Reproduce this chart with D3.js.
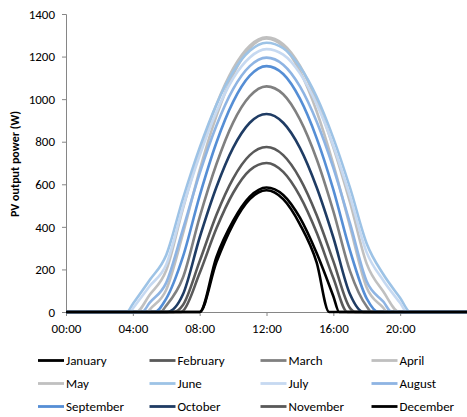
<!DOCTYPE html>
<html><head><meta charset="utf-8">
<script src="https://cdn.jsdelivr.net/npm/d3@7"></script>
<style>
body{margin:0;background:#fff;}
svg text{font-family:Carlito,Lato,"Open Sans",sans-serif;fill:#000;}
</style></head>
<body><svg id="c" width="467" height="417"></svg>
<script>
const hours = d3.range(0,25);
const months = ["January","February","March","April","May","June","July","August","September","October","November","December"];
const colors = ["#000000","#595959","#808080","#bfbfbf","#c0c0c0","#9dc3e6","#c6d9f1","#8eb4e3","#558ed5","#1f3c64","#595959","#000000"];
const sunrise = [8.0,6.45,5.65,4.9,4.2,3.65,3.85,4.55,5.3,6.05,6.9,8.0];
const sunset  = [16.35,17.3,18.3,19.2,19.95,20.6,20.4,19.5,18.7,17.8,16.85,15.75];
const january   = [0,0,0,0,0,0,0,0,0,258,428,542,585,550,443,277,74,0,0,0,0,0,0,0,0];
const february  = [0,0,0,0,0,0,0,33,239,456,627,737,775,737,627,456,239,18,0,0,0,0,0,0,0];
const march     = [0,0,0,0,0,0,30,162,446,694,890,1014,1060,1023,905,719,474,192,26,0,0,0,0,0,0];
const april     = [0,0,0,0,0,10,105,368,667,920,1115,1240,1285,1248,1131,943,694,401,114,19,0,0,0,0,0];
const may       = [0,0,0,0,0,80,196,486,752,974,1143,1251,1290,1258,1157,993,774,515,226,95,0,0,0,0,0];
const june      = [0,0,0,0,38,149,268,533,772,974,1128,1227,1265,1239,1152,1011,817,583,321,176,66,0,0,0,0];
const july      = [0,0,0,0,16,121,223,493,735,940,1097,1196,1235,1209,1121,977,781,543,279,147,42,0,0,0,0];
const august    = [0,0,0,0,0,43,138,389,651,875,1047,1155,1195,1162,1060,895,677,416,143,48,0,0,0,0,0];
const september = [0,0,0,0,0,0,63,260,546,795,987,1110,1155,1118,1002,817,575,288,63,0,0,0,0,0,0];
const october   = [0,0,0,0,0,0,0,83,350,586,771,889,930,889,771,586,350,83,0,0,0,0,0,0,0];
const november  = [0,0,0,0,0,0,0,5,183,392,559,666,700,658,544,373,160,0,0,0,0,0,0,0,0];
const december  = [0,0,0,0,0,0,0,0,0,233,412,530,572,530,412,233,0,0,0,0,0,0,0,0,0];
const series = [january,february,march,april,may,june,july,august,september,october,november,december];
const yTicks = [0,200,400,600,800,1000,1200,1400];
const xTicks = [0,4,8,12,16,20];
const xTickLabels = ["00:00","04:00","08:00","12:00","16:00","20:00"];
const yTitle = "PV output power (W)";

const svg = d3.select("#c");
const x = d3.scaleLinear().domain([0,24]).range([66,467]);
const y = d3.scaleLinear().domain([0,1400]).range([312,14]);

// axes
const yAxis = svg.append("g").attr("transform","translate(66,0)")
  .call(d3.axisLeft(y).tickValues(yTicks).tickSize(4).tickPadding(7).tickFormat(d3.format("d")));
const xAxis = svg.append("g").attr("transform","translate(0,312)")
  .call(d3.axisBottom(x).tickValues(xTicks).tickSize(4).tickPadding(8).tickFormat((d,i)=>xTickLabels[i]));
[yAxis,xAxis].forEach(a=>{
  a.selectAll("path.domain").attr("stroke","#868686").attr("stroke-width",1);
  a.selectAll("line").attr("stroke","#868686");
  a.selectAll("text").attr("font-size","13px").attr("fill","#000");
});

svg.append("text").attr("transform","translate(19,164) rotate(-90)")
  .attr("text-anchor","middle").attr("font-size","12px").attr("font-weight","bold").text(yTitle);

const line = d3.line().x(d=>x(d[0])).y(d=>y(d[1])).curve(d3.curveMonotoneX);
series.forEach((vals,i)=>{
  const pts = [[0,0],[sunrise[i],0]];
  hours.forEach((h,j)=>{ if(h>sunrise[i] && h<sunset[i]) pts.push([h,vals[j]]); });
  pts.push([sunset[i],0],[24,0]);
  svg.append("path").datum(pts).attr("d",line)
    .attr("fill","none").attr("stroke",colors[i]).attr("stroke-width",2.6)
    .attr("stroke-linejoin","round");
});

// legend
const colX = [38,149.5,260.5,371.5];
const rowY = [360.5,383.5,406.5];
months.forEach((m,i)=>{
  const cx = colX[i%4], cy = rowY[Math.floor(i/4)];
  svg.append("line").attr("x1",cx).attr("x2",cx+26).attr("y1",cy).attr("y2",cy)
    .attr("stroke",colors[i]).attr("stroke-width",2.8);
  svg.append("text").attr("x",cx+28).attr("y",cy).attr("dy","0.35em")
    .attr("font-size","13px").text(m);
});
</script></body></html>
